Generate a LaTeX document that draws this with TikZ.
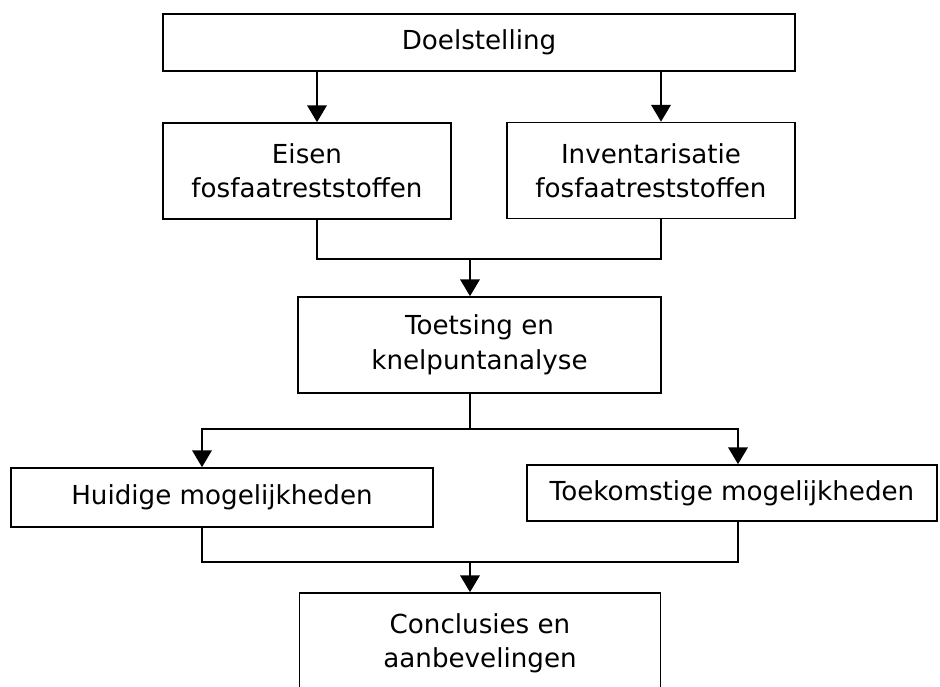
\documentclass[tikz,border=0pt]{standalone}
\usepackage{fontspec}
\setmainfont{DejaVu Sans}
\usetikzlibrary{arrows.meta}

\tikzset{
    blok/.style={draw, line width=1.2pt, align=center, inner sep=0pt,
        font=\fontsize{18.6}{24.5}\selectfont},
    >={Triangle[width=14pt,length=12pt]}
}

\begin{document}
\begin{tikzpicture}[x=0.025cm, y=-0.025cm, line width=1.2pt]
        \path[use as bounding box, clip] (0,0) rectangle (940,686);

        % Blocks
        \node[blok, minimum width=15.8cm, minimum height=1.425cm] (doel) at (479,42.5) {Doelstelling};
        \node[blok, minimum width=7.2cm, minimum height=2.4cm] (eisen) at (307,171) {Eisen\\fosfaatreststoffen};
        \node[blok, minimum width=7.2cm, minimum height=2.4cm] (inv) at (651,170.5) {Inventarisatie\\fosfaatreststoffen};
        \node[blok, minimum width=9.075cm, minimum height=2.4cm] (toets) at (479.5,345) {Toetsing en\\knelpuntanalyse};
        \node[blok, minimum width=10.55cm, minimum height=1.475cm] (huidig) at (222,497.5) {Huidige mogelijkheden};
        \node[blok, minimum width=10.25cm, minimum height=1.4cm] (toekomst) at (732,493) {Toekomstige mogelijkheden};
        \node[blok, minimum width=9.025cm, minimum height=2.5cm] (concl) at (480,643) {Conclusies en\\aanbevelingen};

        % Junctions
        \coordinate (samen1) at (470,259);
        \coordinate (splits) at (470,429);
        \coordinate (samen2) at (470,562);

        % Doelstelling to both inputs
        \draw[->] ([xshift=0.25cm]eisen.north |- doel.south) -- ([xshift=0.25cm]eisen.north);
        \draw[->] ([xshift=0.25cm]inv.north |- doel.south) -- ([xshift=0.25cm]inv.north);

        % Inputs to Toetsing
        \draw ([xshift=0.25cm]eisen.south) |- (samen1) -| ([xshift=0.25cm]inv.south);
        \draw[->] (samen1) -- (samen1 |- toets.north);

        % Toetsing to options
        \draw (splits |- toets.south) -- (splits);
        \draw[->] (splits) -| ([xshift=-0.5cm]huidig.north);
        \draw[->] (splits) -| ([xshift=0.15cm]toekomst.north);

        % Options to conclusions
        \draw ([xshift=-0.5cm]huidig.south) |- (samen2) -| ([xshift=0.15cm]toekomst.south);
        \draw[->] (samen2) -- (samen2 |- concl.north);
    \end{tikzpicture}
\end{document}
